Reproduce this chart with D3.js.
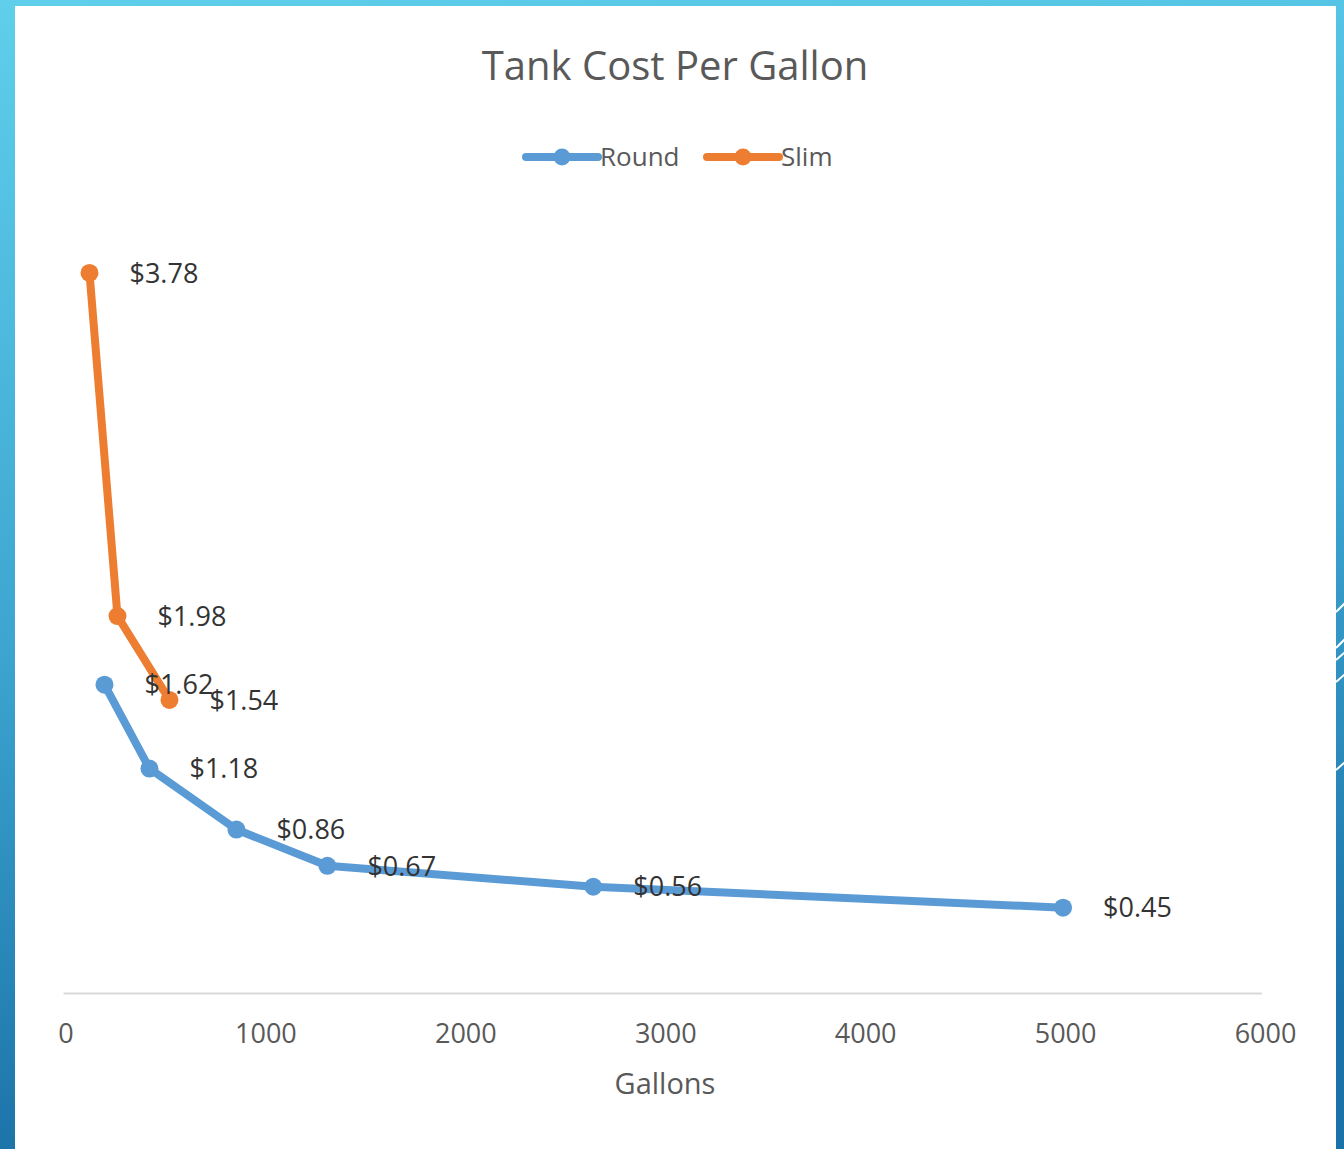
<!DOCTYPE html>
<html>
<head>
<meta charset="utf-8">
<script src="https://cdn.jsdelivr.net/npm/d3@7"></script>
<style>
  html, body { margin: 0; padding: 0; background: #fff; }
  svg { display: block; }
  text { font-family: "Open Sans", "Noto Sans", sans-serif; }
</style>
</head>
<body>
<svg id="chart" width="1344" height="1149"></svg>
<script>
// Tank sizes (gallons) and cost per gallon for each tank style
const roundGallons = [195, 420, 855, 1310, 2640, 4990];
const roundCost    = [1.62, 1.18, 0.86, 0.67, 0.56, 0.45];
const slimGallons  = [120, 260, 520];
const slimCost     = [3.78, 1.98, 1.54];
const xTicks = [0, 1000, 2000, 3000, 4000, 5000, 6000];
const seriesNames = ["Round", "Slim"];
const seriesColors = ["#5B9BD5", "#ED7D31"];

const W = 1344, H = 1149;
const svg = d3.select("#chart");

// Slide frame: blue gradient behind a white panel
const defs = svg.append("defs");
const grad = defs.append("linearGradient").attr("id", "frame")
  .attr("x1", 0).attr("y1", 0).attr("x2", 0.15).attr("y2", 1);
grad.append("stop").attr("offset", "0%").attr("stop-color", "#5FCFEB");
grad.append("stop").attr("offset", "55%").attr("stop-color", "#3DA5D0");
grad.append("stop").attr("offset", "100%").attr("stop-color", "#1B72A8");
svg.append("rect").attr("width", W).attr("height", H).attr("fill", "url(#frame)");

// Decorative white strokes on the right edge
const deco = [[1336, 612, 1350, 598], [1336, 648, 1352, 632], [1336, 660, 1352, 646],
              [1336, 682, 1352, 668], [1336, 770, 1352, 756]];
svg.selectAll("line.deco").data(deco).join("line").attr("class", "deco")
  .attr("x1", d => d[0]).attr("y1", d => d[1]).attr("x2", d => d[2]).attr("y2", d => d[3])
  .attr("stroke", "#fff").attr("stroke-width", 2);

svg.append("rect").attr("x", 15).attr("y", 6).attr("width", 1321).attr("height", H - 6)
  .attr("fill", "#fff");

// Scales
const x = d3.scaleLinear().domain([0, 6000]).range([65.5, 1265]);
const y = d3.scaleLinear().domain([0, 4]).range([993.5, 231]);

// Title
svg.append("text").attr("x", 675).attr("y", 80).attr("text-anchor", "middle")
  .attr("font-size", 40).attr("fill", "#595959").text("Tank Cost Per Gallon");

// Legend
const legend = [
  { name: seriesNames[0], color: seriesColors[0], x0: 526 },
  { name: seriesNames[1], color: seriesColors[1], x0: 707 }
];
const lg = svg.append("g").selectAll("g").data(legend).join("g")
  .attr("transform", d => `translate(${d.x0},157)`);
lg.append("line").attr("x1", 0).attr("x2", 72).attr("stroke", d => d.color)
  .attr("stroke-width", 8).attr("stroke-linecap", "round");
lg.append("circle").attr("cx", 36).attr("r", 8.5).attr("fill", d => d.color);
lg.append("text").attr("x", 74).attr("dy", "0.36em").attr("font-size", 26)
  .attr("fill", "#595959").text(d => d.name);

// X axis
const xAxis = svg.append("g").attr("transform", `translate(0,${y(0)})`)
  .call(d3.axisBottom(x).tickValues(xTicks).tickSize(0).tickPadding(30)
    .tickFormat(d3.format("d")));
xAxis.select(".domain").attr("stroke", "#D9D9D9").attr("stroke-width", 2)
  .attr("d", `M${x(0) - 2},0H${x(6000) - 3}`);
xAxis.selectAll(".tick text").attr("font-size", 27).attr("fill", "#595959")
  .attr("font-family", "'Open Sans', 'Noto Sans', sans-serif");

svg.append("text").attr("x", 665).attr("y", 1094).attr("text-anchor", "middle")
  .attr("font-size", 29).attr("fill", "#595959").text("Gallons");

// Series
const series = [
  { name: seriesNames[0], color: seriesColors[0],
    pts: roundGallons.map((g, i) => ({ g, c: roundCost[i] })) },
  { name: seriesNames[1], color: seriesColors[1],
    pts: slimGallons.map((g, i) => ({ g, c: slimCost[i] })) }
];
const line = d3.line().x(d => x(d.g)).y(d => y(d.c));

const sg = svg.append("g").selectAll("g").data(series).join("g");
sg.append("path").attr("d", d => line(d.pts)).attr("fill", "none")
  .attr("stroke", d => d.color).attr("stroke-width", 8)
  .attr("stroke-linejoin", "round").attr("stroke-linecap", "round");
sg.selectAll("circle").data(d => d.pts.map(p => ({ ...p, color: d.color })))
  .join("circle").attr("cx", d => x(d.g)).attr("cy", d => y(d.c)).attr("r", 9)
  .attr("fill", d => d.color);

// Data labels
const labels = series.flatMap(s => s.pts);
svg.append("g").selectAll("text").data(labels).join("text")
  .attr("x", d => x(d.g) + 40).attr("y", d => y(d.c)).attr("dy", "0.36em")
  .attr("font-size", 27).attr("fill", "#333333")
  .text(d => "$" + d.c.toFixed(2));
</script>
</body>
</html>
